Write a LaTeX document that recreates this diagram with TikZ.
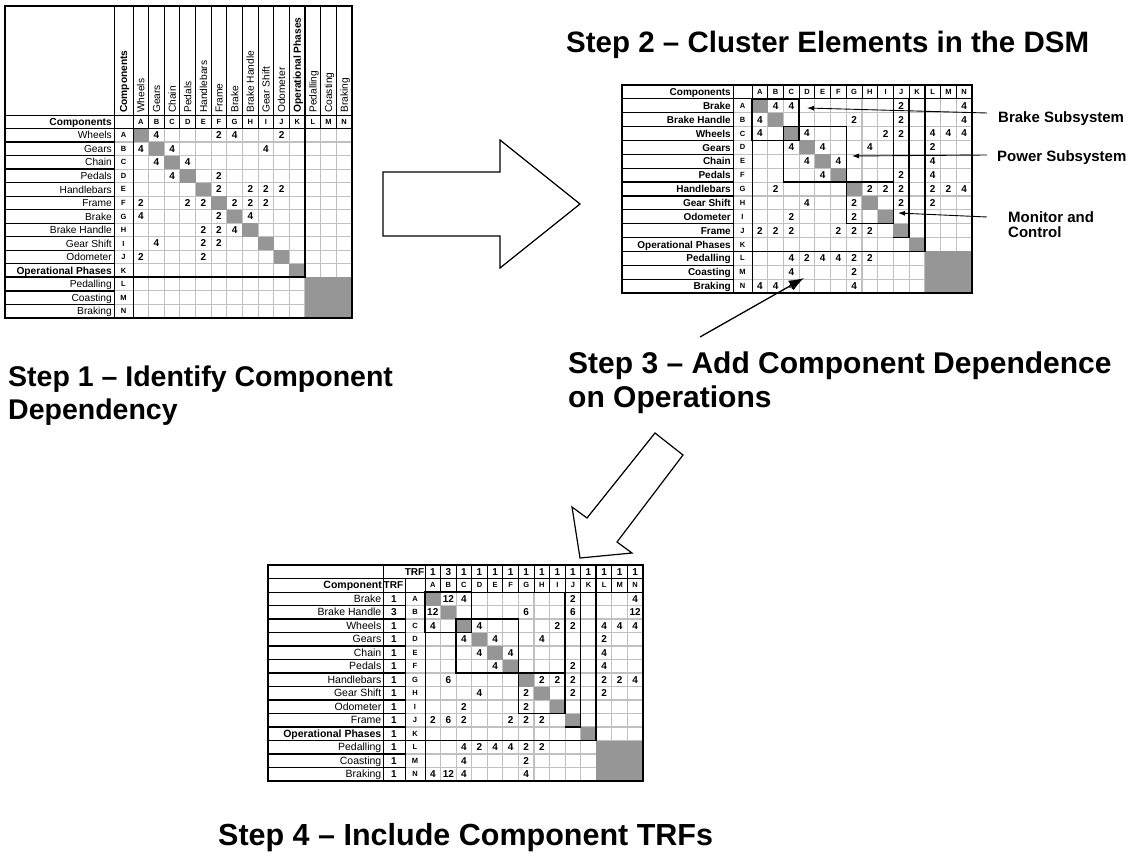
\documentclass[tikz,border=0pt]{standalone}
\usepackage{fontspec}
\setmainfont{Liberation Sans}
\usetikzlibrary{arrows.meta}
\definecolor{dg}{RGB}{150,150,150}
\definecolor{lg}{RGB}{192,192,192}
\begin{document}
\begin{tikzpicture}[x=1pt,y=-1pt,
  mnum/.style={font=\bfseries\fontsize{10}{10}\selectfont,inner sep=0pt},
  mltr/.style={font=\bfseries\fontsize{7.5}{7.5}\selectfont,inner sep=0pt},
  rlab/.style={anchor=base east,inner sep=0pt},
  hrot/.style={rotate=90,anchor=base west,inner sep=0pt,font=\fontsize{10.2}{10.2}\selectfont},
  gline/.style={draw=lg,line width=1.1pt},
  bline/.style={draw=black,line width=0.9pt},
  sepline/.style={draw=black,line width=1.3pt},
  tline/.style={draw=black,line width=1.8pt},
  boxline/.style={draw=black,line width=1.5pt},
  ann/.style={draw=black,line width=0.9pt,-{Latex[length=7,width=5]}},
  steptitle/.style={font=\bfseries\fontsize{29.5}{33}\selectfont,anchor=base west,inner sep=0pt},
  sidelab/.style={font=\bfseries\fontsize{15}{15}\selectfont,anchor=base west,inner sep=0pt},
  blockarrow/.style={draw=black,line width=1.2pt,fill=white,line join=miter}
]
\useasboundingbox (0,0) rectangle (1130,856);
\fill[white] (0,0) rectangle (1130,856);

%%%%%%%%%%%%%%%% Matrix 1 (Step 1)
\begin{scope}
\def\mx{133}\def\my{128.5}\def\mw{15.64}\def\mh{13.53}
\foreach \i in {1,...,13}
  \draw[gline] ({\mx+\i*\mw},\my) -- ({\mx+\i*\mw},{\my+14*\mh});
\foreach \j in {1,...,13}
  \draw[gline] (114,{\my+\j*\mh}) -- ({\mx+14*\mw},{\my+\j*\mh});
\foreach \i in {1,...,11}
  \fill[dg] ({\mx+(\i-1)*\mw},{\my+(\i-1)*\mh}) rectangle ++(\mw,\mh);
\fill[dg] ({\mx+11*\mw},{\my+11*\mh}) rectangle ({\mx+14*\mw},{\my+14*\mh});
\foreach \j in {1,...,13}
  \draw[sepline] (5,{\my+\j*\mh}) -- (114,{\my+\j*\mh});
\foreach \i in {1,...,13}
  \draw[bline] ({\mx+\i*\mw},6) -- ({\mx+\i*\mw},\my);
\draw[bline] (5,115) -- ({\mx+14*\mw},115);
\draw[bline] (5,\my) -- ({\mx+14*\mw},\my);
\draw[bline] (114,6) -- (114,{\my+14*\mh});
\draw[bline] (\mx,6) -- (\mx,{\my+14*\mh});
\draw[tline] ({\mx+11*\mw},6) -- ({\mx+11*\mw},{\my+11*\mh}) -- (5,{\my+11*\mh});
\draw[tline] (5,6) rectangle ({\mx+14*\mw},{\my+14*\mh});
% texts
\node[hrot,font=\bfseries\fontsize{10.2}{10.2}\selectfont] (m1hc) at (127.2,113) {Components};
\node[rlab,font=\bfseries\fontsize{10.2}{10.2}\selectfont] (m1rc) at (112,{\my-0.5*\mh+3.65}) {Components};
\foreach \t [count=\i] in {Wheels,Gears,Chain,Pedals,Handlebars,Frame,Brake,Brake Handle,Gear Shift,Odometer,\textbf{Operational Phases},Pedalling,Coasting,Braking}{
  \node[hrot] (m1h\i) at ({\mx+(\i-0.5)*\mw+3.65},113) {\t};
  \node[rlab,font=\fontsize{10.2}{10.2}\selectfont] (m1r\i) at (112,{\my+(\i-0.5)*\mh+3.65}) {\t};
}
\foreach \l [count=\i] in {A,B,C,D,E,F,G,H,I,J,K,L,M,N}{
  \node[mltr] (m1c\i) at ({\mx+(\i-0.5)*\mw},{\my-0.5*\mh}) {\l};
  \node[mltr] (m1l\i) at (123.5,{\my+(\i-0.5)*\mh}) {\l};
}
\foreach \r/\c/\v in {1/2/4,1/6/2,1/7/4,1/10/2,
  2/1/4,2/3/4,2/9/4,
  3/2/4,3/4/4,
  4/3/4,4/6/2,
  5/6/2,5/8/2,5/9/2,5/10/2,
  6/1/2,6/4/2,6/5/2,6/7/2,6/8/2,6/9/2,
  7/1/4,7/6/2,7/8/4,
  8/5/2,8/6/2,8/7/4,
  9/2/4,9/5/2,9/6/2,
  10/1/2,10/5/2}
  \node[mnum] (m1v\r-\c) at ({\mx+(\c-0.5)*\mw},{\my+(\r-0.5)*\mh}) {\v};
\end{scope}

%%%%%%%%%%%%%%%% Matrix 2 (Step 2)
\begin{scope}
\def\mx{752}\def\my{98.87}\def\mw{15.71}\def\mh{13.87}
\foreach \i in {1,...,13}
  \draw[gline] ({\mx+\i*\mw},\my) -- ({\mx+\i*\mw},{\my+14*\mh});
\foreach \j in {1,...,13}
  \draw[gline] (733,{\my+\j*\mh}) -- ({\mx+14*\mw},{\my+\j*\mh});
\foreach \i in {1,...,11}
  \fill[dg] ({\mx+(\i-1)*\mw},{\my+(\i-1)*\mh}) rectangle ++(\mw,\mh);
\fill[dg] ({\mx+11*\mw},{\my+11*\mh}) rectangle ({\mx+14*\mw},{\my+14*\mh});
\foreach \j in {1,...,13}
  \draw[sepline] (622,{\my+\j*\mh}) -- (733,{\my+\j*\mh});
\foreach \i in {1,...,13}
  \draw[bline] ({\mx+\i*\mw},85) -- ({\mx+\i*\mw},\my);
\draw[bline] (622,\my) -- ({\mx+14*\mw},\my);
\draw[bline] (733,85) -- (733,{\my+14*\mh});
\draw[bline] (\mx,85) -- (\mx,{\my+14*\mh});
\draw[tline] ({\mx+11*\mw},85) -- ({\mx+11*\mw},{\my+11*\mh}) -- (622,{\my+11*\mh});
\draw[boxline] ({\mx+10*\mw},\my) -- ({\mx+10*\mw},{\my+10*\mh}) -- ({\mx+9*\mw},{\my+10*\mh});
\draw[boxline] ({\mx+9*\mw},\my) -- ({\mx+9*\mw},{\my+9*\mh});
\draw[boxline] (\mx,\my) rectangle ({\mx+3*\mw},{\my+3*\mh});
\draw[boxline] ({\mx+2*\mw},{\my+2*\mh}) rectangle ({\mx+6*\mw},{\my+6*\mh});
\draw[boxline] ({\mx+6*\mw},{\my+6*\mh}) rectangle ({\mx+9*\mw},{\my+9*\mh});
\draw[tline] (622,85) rectangle ({\mx+14*\mw},{\my+14*\mh});
% texts
\node[rlab,font=\bfseries\fontsize{10}{10}\selectfont] (m2rc) at (731,{\my-0.5*\mh+3.6}) {Components};
\foreach \t [count=\i] in {Brake,Brake Handle,Wheels,Gears,Chain,Pedals,Handlebars,Gear Shift,Odometer,Frame,Operational Phases,Pedalling,Coasting,Braking}
  \node[rlab,font=\bfseries\fontsize{10}{10}\selectfont] (m2r\i) at (731,{\my+(\i-0.5)*\mh+3.6}) {\t};
\foreach \l [count=\i] in {A,B,C,D,E,F,G,H,I,J,K,L,M,N}{
  \node[mltr] (m2c\i) at ({\mx+(\i-0.5)*\mw},{\my-0.5*\mh}) {\l};
  \node[mltr] (m2l\i) at (742.5,{\my+(\i-0.5)*\mh}) {\l};
}
\foreach \r/\c/\v in {1/2/4,1/3/4,1/10/2,1/14/4,
  2/1/4,2/7/2,2/10/2,2/14/4,
  3/1/4,3/4/4,3/9/2,3/10/2,3/12/4,3/13/4,3/14/4,
  4/3/4,4/5/4,4/8/4,4/12/2,
  5/4/4,5/6/4,5/12/4,
  6/5/4,6/10/2,6/12/4,
  7/2/2,7/8/2,7/9/2,7/10/2,7/12/2,7/13/2,7/14/4,
  8/4/4,8/7/2,8/10/2,8/12/2,
  9/3/2,9/7/2,
  10/1/2,10/2/2,10/3/2,10/6/2,10/7/2,10/8/2,
  12/3/4,12/4/2,12/5/4,12/6/4,12/7/2,12/8/2,
  13/3/4,13/7/2,
  14/1/4,14/2/4,14/3/4,14/7/4}
  \node[mnum] (m2v\r-\c) at ({\mx+(\c-0.5)*\mw},{\my+(\r-0.5)*\mh}) {\v};
\end{scope}

%%%%%%%%%%%%%%%% Matrix 3 (Step 4)
\begin{scope}
\def\mx{425}\def\my{592}\def\mw{15.57}\def\mh{13.5}
\foreach \i in {1,...,13}
  \draw[gline] ({\mx+\i*\mw},\my) -- ({\mx+\i*\mw},{\my+14*\mh});
\foreach \j in {1,...,13}
  \draw[gline] (405,{\my+\j*\mh}) -- ({\mx+14*\mw},{\my+\j*\mh});
\foreach \i in {1,...,11}
  \fill[dg] ({\mx+(\i-1)*\mw},{\my+(\i-1)*\mh}) rectangle ++(\mw,\mh);
\fill[dg] ({\mx+11*\mw},{\my+11*\mh}) rectangle ({\mx+14*\mw},{\my+14*\mh});
\foreach \j in {1,...,13}
  \draw[sepline] (268,{\my+\j*\mh}) -- (405,{\my+\j*\mh});
\foreach \i in {1,...,13}
  \draw[bline] ({\mx+\i*\mw},565) -- ({\mx+\i*\mw},\my);
\draw[bline] (268,578.5) -- ({\mx+14*\mw},578.5);
\draw[bline] (268,\my) -- ({\mx+14*\mw},\my);
\draw[bline] (383,565) -- (383,{\my+14*\mh});
\draw[bline] (405,578.5) -- (405,{\my+14*\mh});
\draw[bline] (\mx,565) -- (\mx,{\my+14*\mh});
\draw[tline] ({\mx+11*\mw},565) -- ({\mx+11*\mw},{\my+11*\mh}) -- (268,{\my+11*\mh});
\draw[boxline] ({\mx+10*\mw},\my) -- ({\mx+10*\mw},{\my+10*\mh}) -- ({\mx+9*\mw},{\my+10*\mh});
\draw[boxline] ({\mx+9*\mw},\my) -- ({\mx+9*\mw},{\my+9*\mh});
\draw[boxline] (\mx,\my) rectangle ({\mx+3*\mw},{\my+3*\mh});
\draw[boxline] ({\mx+2*\mw},{\my+2*\mh}) rectangle ({\mx+6*\mw},{\my+6*\mh});
\draw[boxline] ({\mx+6*\mw},{\my+6*\mh}) rectangle ({\mx+9*\mw},{\my+9*\mh});
\draw[tline] (268,565) rectangle ({\mx+14*\mw},{\my+14*\mh});
% texts
\node[mnum,anchor=east] (m3trfa) at (424.5,571.75) {TRF};
\node[mnum,anchor=west] (m3trfb) at (383.5,585.25) {TRF};
\node[rlab,font=\bfseries\fontsize{10.5}{10.5}\selectfont] (m3rc) at (382,{\my-0.5*\mh+3.7}) {Component};
\foreach \v [count=\i] in {1,3,1,1,1,1,1,1,1,1,1,1,1,1}
  \node[mnum] (m3t\i) at ({\mx+(\i-0.5)*\mw},571.75) {\v};
\foreach \t [count=\i] in {Brake,Brake Handle,Wheels,Gears,Chain,Pedals,Handlebars,Gear Shift,Odometer,Frame,\textbf{Operational Phases},Pedalling,Coasting,Braking}{
  \node[rlab,font=\fontsize{10.5}{10.5}\selectfont] (m3r\i) at (381.5,{\my+(\i-0.5)*\mh+3.7}) {\t};
}
\foreach \v [count=\i] in {1,3,1,1,1,1,1,1,1,1,1,1,1,1}
  \node[mnum] (m3f\i) at (394,{\my+(\i-0.5)*\mh}) {\v};
\foreach \l [count=\i] in {A,B,C,D,E,F,G,H,I,J,K,L,M,N}{
  \node[mltr] (m3c\i) at ({\mx+(\i-0.5)*\mw},{\my-0.5*\mh}) {\l};
  \node[mltr] (m3l\i) at (415,{\my+(\i-0.5)*\mh}) {\l};
}
\foreach \r/\c/\v in {1/2/12,1/3/4,1/10/2,1/14/4,
  2/1/12,2/7/6,2/10/6,2/14/12,
  3/1/4,3/4/4,3/9/2,3/10/2,3/12/4,3/13/4,3/14/4,
  4/3/4,4/5/4,4/8/4,4/12/2,
  5/4/4,5/6/4,5/12/4,
  6/5/4,6/10/2,6/12/4,
  7/2/6,7/8/2,7/9/2,7/10/2,7/12/2,7/13/2,7/14/4,
  8/4/4,8/7/2,8/10/2,8/12/2,
  9/3/2,9/7/2,
  10/1/2,10/2/6,10/3/2,10/6/2,10/7/2,10/8/2,
  12/3/4,12/4/2,12/5/4,12/6/4,12/7/2,12/8/2,
  13/3/4,13/7/2,
  14/1/4,14/2/12,14/3/4,14/7/4}
  \node[mnum] (m3v\r-\c) at ({\mx+(\c-0.5)*\mw},{\my+(\r-0.5)*\mh}) {\v};
\end{scope}

%%%%%%%%%%%%%%%% Block arrows
\draw[blockarrow] (383,172) -- (500,172) -- (500,140) -- (580,204) -- (500,268) -- (500,236) -- (383,236) -- cycle;
\draw[blockarrow] (655,433) -- (683,455) -- (617,542) -- (632,553) -- (580,558) -- (572,507) -- (587,518) -- cycle;

%%%%%%%%%%%%%%%% Annotations
\node[sidelab] (lbrake) at (998,122.4) {Brake Subsystem};
\node[sidelab] (lpower) at (997,161.4) {Power Subsystem};
\node[sidelab] (lmon1) at (1008,222) {Monitor and};
\node[sidelab] (lmon2) at (1008,237.5) {Control};
\coordinate (abS) at (987,113);
\coordinate (abE) at (807,108);
\coordinate (apS) at (987,155);
\coordinate (apE) at (852,156);
\coordinate (amS) at (987,217);
\coordinate (amE) at (898,213);
\draw[ann] (abS) -- (abE);
\draw[ann] (apS) -- (apE);
\draw[ann] (amS) -- (amE);
\coordinate (s3S) at (700,337);
\coordinate (s3E) at (804,278);
\draw[line width=1.3pt,-{Latex[length=15,width=11]}] (s3S) -- (s3E);

%%%%%%%%%%%%%%%% Titles
\node[steptitle,font=\bfseries\fontsize{28.5}{33}\selectfont] (t1a) at (8,386.5) {Step 1 – Identify Component};
\node[steptitle,font=\bfseries\fontsize{28.5}{33}\selectfont] (t1b) at (8,419.5) {Dependency};
\node[steptitle] (t2) at (566,52.5) {Step 2 – Cluster Elements in the DSM};
\node[steptitle,font=\bfseries\fontsize{30}{33}\selectfont] (t3a) at (568,373) {Step 3 – Add Component Dependence};
\node[steptitle,font=\bfseries\fontsize{30}{33}\selectfont] (t3b) at (568,407) {on Operations};
\node[steptitle,font=\bfseries\fontsize{30.5}{33}\selectfont] (t4) at (218,845.5) {Step 4 – Include Component TRFs};
\end{tikzpicture}
\end{document}
